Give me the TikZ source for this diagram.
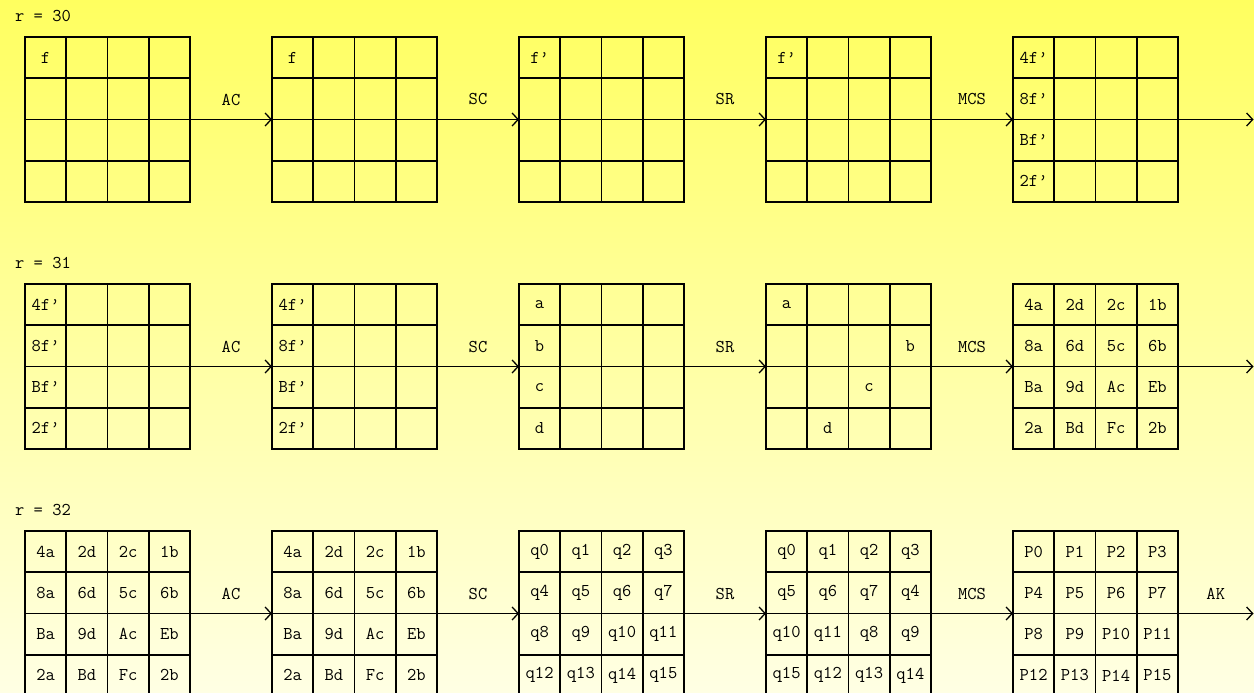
\documentclass[tikz,border=0pt]{standalone}
\usepackage{fontspec}
\usetikzlibrary{arrows.meta,calc}

\definecolor{bgtop}{RGB}{255,255,95}
\definecolor{bgbot}{RGB}{255,255,228}
\newcommand{\celltext}{\ttfamily\fontsize{18}{20}\selectfont}

\tikzset{
  gridbox/.style={draw, line width=1.6pt, minimum size=165pt, inner sep=0pt, outer sep=0pt},
  gridline/.style={line width=1.6pt},
  cell/.style={inner sep=0pt, font=\celltext},
  flow/.style={line width=1.3pt, -{Straight Barb[length=6pt,width=13pt]}},
  steplabel/.style={font=\celltext, yshift=20pt},
  roundlabel/.style={anchor=west, inner sep=0pt, font=\celltext},
}

% a 4x4 state grid: name, centre, entries row by row
\newcommand{\stategrid}[3]{%
  \node[gridbox] (#1) at (#2) {};
  \foreach \k in {1,2,3} {
    \draw[gridline] ($(#1.north west)+(\k*41.25,0)$) -- ($(#1.south west)+(\k*41.25,0)$);
    \draw[gridline] ($(#1.north west)+(0,\k*41.25)$) -- ($(#1.north east)+(0,\k*41.25)$);
  }
  \foreach \entry [count=\i from 0] in {#3} {
    \pgfmathtruncatemacro{\gc}{mod(\i,4)}
    \pgfmathtruncatemacro{\gr}{(\i-\gc)/4}
    \node[cell] (#1-\i) at ($(#1.north west)+(\gc*41.25+20.625,\gr*41.25+20.625)$) {\entry};
  }
}

\begin{document}
\begin{tikzpicture}[x=1pt, y=-1pt]
  \useasboundingbox (0,0) rectangle (1254,693);
  \shade[top color=bgtop, bottom color=bgbot] (0,0) rectangle (1254,693);
  \clip (0,0) rectangle (1254,693);

  % ==================== r = 30 ====================
  \node[roundlabel] (r30) at (15,16) {r = 30};
  \stategrid{g11}{107.5,119.5}{f}
  \stategrid{g12}{354.5,119.5}{f}
  \stategrid{g13}{601.5,119.5}{f’}
  \stategrid{g14}{848.5,119.5}{f’}
  \stategrid{g15}{1095.5,119.5}{4f’,{},{},{},8f’,{},{},{},Bf’,{},{},{},2f’}
  \coordinate (end1) at (1253.5,119.5);

  \draw[flow] (g11.east) -- node[steplabel] {AC} (g12.west);
  \draw[flow] (g12.east) -- node[steplabel] {SC} (g13.west);
  \draw[flow] (g13.east) -- node[steplabel] {SR} (g14.west);
  \draw[flow] (g14.east) -- node[steplabel] {MCS} (g15.west);
  \draw[flow] (g15.east) -- (end1);

  % ==================== r = 31 ====================
  \node[roundlabel] (r31) at (15,263) {r = 31};
  \stategrid{g21}{107.5,366.5}{4f’,{},{},{},8f’,{},{},{},Bf’,{},{},{},2f’}
  \stategrid{g22}{354.5,366.5}{4f’,{},{},{},8f’,{},{},{},Bf’,{},{},{},2f’}
  \stategrid{g23}{601.5,366.5}{a,{},{},{},b,{},{},{},c,{},{},{},d}
  \stategrid{g24}{848.5,366.5}{a,{},{},{},{},{},{},b,{},{},c,{},{},d}
  \stategrid{g25}{1095.5,366.5}{4a,2d,2c,1b,8a,6d,5c,6b,Ba,9d,Ac,Eb,2a,Bd,Fc,2b}
  \coordinate (end2) at (1253.5,366.5);

  \draw[flow] (g21.east) -- node[steplabel] {AC} (g22.west);
  \draw[flow] (g22.east) -- node[steplabel] {SC} (g23.west);
  \draw[flow] (g23.east) -- node[steplabel] {SR} (g24.west);
  \draw[flow] (g24.east) -- node[steplabel] {MCS} (g25.west);
  \draw[flow] (g25.east) -- (end2);

  % ==================== r = 32 ====================
  \node[roundlabel] (r32) at (15,510) {r = 32};
  \stategrid{g31}{107.5,613.5}{4a,2d,2c,1b,8a,6d,5c,6b,Ba,9d,Ac,Eb,2a,Bd,Fc,2b}
  \stategrid{g32}{354.5,613.5}{4a,2d,2c,1b,8a,6d,5c,6b,Ba,9d,Ac,Eb,2a,Bd,Fc,2b}
  \stategrid{g33}{601.5,613.5}{q0,q1,q2,q3,q4,q5,q6,q7,q8,q9,q10,q11,q12,q13,q14,q15}
  \stategrid{g34}{848.5,613.5}{q0,q1,q2,q3,q5,q6,q7,q4,q10,q11,q8,q9,q15,q12,q13,q14}
  \stategrid{g35}{1095.5,613.5}{P0,P1,P2,P3,P4,P5,P6,P7,P8,P9,P10,P11,P12,P13,P14,P15}
  \coordinate (end3) at (1253.5,613.5);

  \draw[flow] (g31.east) -- node[steplabel] {AC} (g32.west);
  \draw[flow] (g32.east) -- node[steplabel] {SC} (g33.west);
  \draw[flow] (g33.east) -- node[steplabel] {SR} (g34.west);
  \draw[flow] (g34.east) -- node[steplabel] {MCS} (g35.west);
  \draw[flow] (g35.east) -- node[steplabel] {AK} (end3);
\end{tikzpicture}
\end{document}
